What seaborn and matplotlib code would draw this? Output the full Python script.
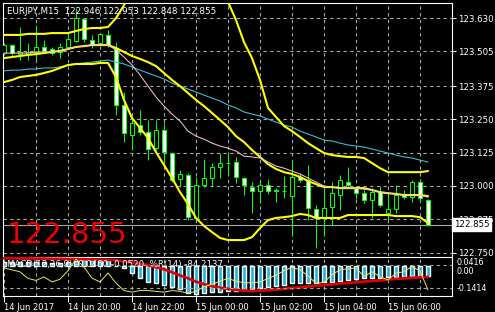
import numpy as np
import matplotlib
matplotlib.use("Agg")
import matplotlib.pyplot as plt
import seaborn as sns

title_text = "EURJPY,M15  122.946 122.953 122.848 122.855"
macd_text = "MACD(12,26,9) -0.0460 -0.0520  %R(14) -84.2137"
time_labels = ["14 Jun 2017", "14 Jun 20:00", "14 Jun 22:00", "15 Jun 00:00",
               "15 Jun 02:00", "15 Jun 04:00", "15 Jun 06:00"]
price_ticks = [123.630, 123.505, 123.375, 123.250, 123.125, 123.000, 122.875, 122.750]
bid = 122.855

opens = [123.499, 123.529, 123.495, 123.495, 123.503, 123.522, 123.514, 123.503, 123.522, 123.544,
         123.627, 123.548, 123.537, 123.567, 123.518, 123.304, 123.191, 123.229, 123.203, 123.143,
         123.210, 123.124, 123.026, 123.041, 122.880, 123.004, 123.030, 123.071, 123.086, 123.090,
         123.030, 122.996, 122.981, 123.004, 122.985, 122.981, 122.962, 123.034, 123.023, 122.914,
         122.880, 122.921, 122.966, 123.015, 122.992, 122.974, 122.947, 122.977, 122.899, 122.914,
         122.966, 122.959, 123.015, 122.946]
highs = [123.537, 123.533, 123.597, 123.537, 123.604, 123.548, 123.522, 123.537, 123.574, 123.668,
         123.631, 123.567, 123.574, 123.586, 123.541, 123.353, 123.259, 123.285, 123.248, 123.248,
         123.236, 123.128, 123.060, 123.049, 123.034, 123.101, 123.086, 123.124, 123.128, 123.109,
         123.034, 123.015, 123.015, 123.026, 122.992, 123.038, 123.098, 123.050, 123.079, 122.929,
         123.004, 123.015, 123.041, 123.071, 123.000, 122.985, 122.992, 123.000, 122.970, 123.004,
         122.985, 123.023, 123.026, 122.953]
lows = [123.492, 123.492, 123.473, 123.473, 123.473, 123.499, 123.492, 123.480, 123.518, 123.541,
        123.541, 123.518, 123.533, 123.522, 123.267, 123.165, 123.135, 123.191, 123.098, 123.135,
        123.079, 123.015, 122.996, 122.872, 122.872, 122.996, 122.996, 123.030, 123.041, 123.011,
        122.966, 122.899, 122.936, 122.970, 122.940, 122.955, 122.816, 123.015, 122.872, 122.767,
        122.816, 122.854, 122.910, 122.996, 122.951, 122.936, 122.880, 122.921, 122.872, 122.899,
        122.951, 122.940, 122.940, 122.848]
closes = [123.529, 123.499, 123.503, 123.503, 123.522, 123.507, 123.499, 123.522, 123.552, 123.631,
          123.552, 123.533, 123.571, 123.529, 123.304, 123.199, 123.236, 123.203, 123.139, 123.210,
          123.128, 123.023, 123.045, 122.884, 123.004, 123.030, 123.071, 123.086, 123.087, 123.034,
          123.004, 122.981, 123.004, 122.981, 122.981, 122.981, 123.034, 123.023, 122.917, 122.880,
          122.917, 122.974, 123.023, 123.004, 122.974, 122.947, 122.977, 122.929, 122.914, 122.966,
          122.959, 123.015, 122.955, 122.855]

bb_upper = [123.567, 123.567, 123.567, 123.571, 123.571, 123.571, 123.574, 123.574, 123.574, 123.582,
            123.589, 123.593, 123.593, 123.597, 123.630, 123.679, 123.728, 123.773, 123.803, 123.822,
            123.833, 123.837, 123.837, 123.830, 123.811, 123.788, 123.758, 123.728, 123.691, 123.623,
            123.540, 123.480, 123.398, 123.293, 123.259, 123.225, 123.206, 123.184, 123.161, 123.142,
            123.124, 123.116, 123.112, 123.109, 123.109, 123.105, 123.086, 123.067, 123.052, 123.052,
            123.052, 123.052, 123.052, 123.056]
bb_middle = [123.480, 123.484, 123.488, 123.492, 123.495, 123.499, 123.503, 123.507, 123.514, 123.522,
             123.525, 123.529, 123.529, 123.529, 123.518, 123.503, 123.488, 123.477, 123.465, 123.450,
             123.424, 123.398, 123.375, 123.349, 123.323, 123.300, 123.274, 123.248, 123.221, 123.187,
             123.165, 123.135, 123.109, 123.082, 123.064, 123.052, 123.045, 123.034, 123.019, 123.007,
             122.996, 122.996, 122.992, 122.992, 122.992, 122.992, 122.985, 122.977, 122.973, 122.970,
             122.966, 122.966, 122.966, 122.962]
bb_lower = [123.390, 123.398, 123.409, 123.413, 123.417, 123.424, 123.432, 123.443, 123.454, 123.458,
            123.458, 123.458, 123.462, 123.462, 123.409, 123.323, 123.255, 123.218, 123.180, 123.127,
            123.079, 123.030, 122.977, 122.932, 122.880, 122.850, 122.827, 122.805, 122.797, 122.797,
            122.797, 122.808, 122.842, 122.872, 122.880, 122.883, 122.887, 122.895, 122.891, 122.880,
            122.880, 122.880, 122.880, 122.891, 122.891, 122.891, 122.891, 122.891, 122.891, 122.887,
            122.887, 122.887, 122.883, 122.861]
ma_fast = [123.499, 123.499, 123.499, 123.499, 123.503, 123.503, 123.503, 123.507, 123.514, 123.522,
           123.525, 123.529, 123.529, 123.529, 123.511, 123.484, 123.454, 123.417, 123.375, 123.334,
           123.300, 123.270, 123.244, 123.206, 123.187, 123.176, 123.161, 123.150, 123.142, 123.131,
           123.112, 123.109, 123.105, 123.090, 123.075, 123.067, 123.056, 123.045, 123.030, 123.015,
           123.000, 122.996, 122.992, 122.992, 122.992, 122.988, 122.985, 122.977, 122.973, 122.970,
           122.966, 122.966, 122.966, 122.958]
ma_slow = [123.432, 123.435, 123.435, 123.439, 123.439, 123.443, 123.443, 123.447, 123.454, 123.458,
           123.462, 123.465, 123.469, 123.473, 123.465, 123.458, 123.447, 123.435, 123.424, 123.413,
           123.402, 123.386, 123.375, 123.364, 123.353, 123.341, 123.330, 123.319, 123.304, 123.293,
           123.278, 123.270, 123.263, 123.251, 123.240, 123.229, 123.221, 123.206, 123.195, 123.184,
           123.172, 123.169, 123.161, 123.154, 123.150, 123.146, 123.139, 123.131, 123.124, 123.116,
           123.109, 123.105, 123.097, 123.090]

macd_main = [0.020, 0.019, 0.018, 0.017, 0.017, 0.016, 0.015, 0.015, 0.017, 0.024,
             0.026, 0.026, 0.027, 0.027, -0.002, -0.012, -0.033, -0.057, -0.076, -0.080,
             -0.090, -0.099, -0.108, -0.127, -0.132, -0.127, -0.123, -0.122, -0.118, -0.117,
             -0.113, -0.1085, -0.105, -0.099, -0.096, -0.090, -0.080, -0.080, -0.080, -0.080,
             -0.078, -0.074, -0.070, -0.066, -0.063, -0.059, -0.057, -0.057, -0.054, -0.052,
             -0.050, -0.048, -0.047, -0.046]
macd_signal = [0.036, 0.036, 0.035, 0.035, 0.034, 0.034, 0.033, 0.033, 0.032, 0.032,
               0.031, 0.030, 0.029, 0.028, 0.026, 0.022, 0.016, 0.009, 0.003, -0.006,
               -0.016, -0.030, -0.045, -0.058, -0.074, -0.086, -0.095, -0.103, -0.108, -0.113,
               -0.116, -0.118, -0.117, -0.114, -0.111, -0.108, -0.104, -0.101, -0.097, -0.093,
               -0.090, -0.087, -0.083, -0.080, -0.077, -0.074, -0.071, -0.068, -0.064, -0.061,
               -0.059, -0.056, -0.054, -0.052]
wpr = [-28, -33, -38, -55, -60, -51, -64, -57, -35, -5,
       -26, -54, -64, -41, -67, -86, -90, -86, -86, -88,
       -90, -86, -88, -93, -88, -76, -70, -62, -55, -62,
       -66, -66, -64, -55, -47, -35, -27, -33, -48, -68,
       -65, -45, -33, -30, -28, -50, -38, -50, -59, -41,
       -38, -24, -36, -84.2137]

# ---------------- style ----------------
sns.set_theme(style="dark", rc={"axes.facecolor": "black", "figure.facecolor": "black",
                                "savefig.facecolor": "black", "axes.edgecolor": "white",
                                "text.color": "white", "xtick.color": "white", "ytick.color": "white"})
plt.rcParams['font.family'] = ['DejaVu Sans']

W, H = 495, 312
fig = plt.figure(figsize=(W / 100, H / 100), dpi=100)
ax = fig.add_axes([3 / W, 1 - 256 / H, 449 / W, 253 / H])
axm = fig.add_axes([3 / W, 1 - 296 / H, 449 / W, 39 / H])

GREEN = "#00ff00"
GRID = "#a6a6a6"
dash = (0, (3, 3))
n = len(opens)
x = np.arange(n)
o = np.array(opens); c = np.array(closes)

# ---------------- main panel ----------------
ax.set_xlim(-0.125, 56)
ax.set_ylim(122.7372, 123.6869)
ax.set_xticks(np.arange(4, 56, 4))
ax.set_yticks(price_ticks)
ax.set_yticklabels([f"{p:.3f}" for p in price_ticks])
ax.grid(True, color=GRID, linestyle=dash, linewidth=0.8)
ax.set_axisbelow(True)
ax.tick_params(axis="x", length=0, labelbottom=False, bottom=False)
ax.tick_params(axis="y", left=False, labelleft=False, right=True, labelright=True,
               length=3, width=0.72, pad=1.5, labelsize=6.2, colors="white")
for s in ["left", "top", "right"]:
    ax.spines[s].set_color("white"); ax.spines[s].set_linewidth(0.8)
ax.spines["bottom"].set_visible(False)

ax.axhline(bid, color="#a8a8a8", linewidth=0.8, zorder=1.5)

ax.vlines(x, lows, highs, color=GREEN, linewidth=0.75, zorder=2)
fills = np.where(c < o, "white", "black")
ax.bar(x, np.abs(c - o), bottom=np.minimum(o, c), width=0.62, color=fills,
       edgecolor=GREEN, linewidth=0.75, zorder=3)

sns.lineplot(x=x, y=ma_slow, ax=ax, color="#3cc8d8", linewidth=0.75, estimator=None, zorder=4)
sns.lineplot(x=x, y=bb_upper, ax=ax, color="#ffff00", linewidth=1.5, estimator=None, zorder=4)
sns.lineplot(x=x, y=bb_middle, ax=ax, color="#ffff00", linewidth=1.5, estimator=None, zorder=4)
sns.lineplot(x=x, y=bb_lower, ax=ax, color="#ffff00", linewidth=1.5, estimator=None, zorder=4)
sns.lineplot(x=x, y=ma_fast, ax=ax, color="#f4c0c8", linewidth=0.75, estimator=None, zorder=5)

ax.text((7 - 3) / 449, 122.786, f"{bid:.3f}", transform=ax.get_yaxis_transform(),
        color="#ee0000", fontsize=21, va="baseline", ha="left", zorder=6)
ax.text(1.004, bid, f"{bid:.3f}", transform=ax.get_yaxis_transform(), color="black",
        fontsize=6.2, va="center", ha="left", clip_on=False, zorder=10,
        bbox=dict(facecolor="white", edgecolor="white", pad=1.2))
fig.text(7 / W, 1 - 11 / H, title_text, color="white", fontsize=6.3, va="center", ha="left")

# ---------------- MACD panel ----------------
axm.set_xlim(-0.125, 56)
axm.set_ylim(-0.1414, 0.0416)
axm.set_xticks(np.arange(0, 56, 8))
axm.set_xticks(np.arange(4, 56, 8), minor=True)
axm.set_xticklabels(time_labels, ha="left")
axm.set_yticks([])
axm.grid(True, which="both", axis="x", color=GRID, linestyle=dash, linewidth=0.8)
axm.grid(False, axis="y")
axm.set_axisbelow(True)
axm.tick_params(axis="x", which="major", length=4, width=0.72, pad=1, labelsize=6, colors="white",
                direction="out", bottom=True)
axm.tick_params(axis="x", which="minor", length=0)
for s in axm.spines.values():
    s.set_color("white"); s.set_linewidth(0.8)

axm.bar(x, macd_main, width=0.62, color="#1ab4ee", zorder=2)
sns.lineplot(x=x, y=macd_signal, ax=axm, color="#e00000", linewidth=2.0, estimator=None, zorder=3)

axr = axm.twinx()
axr.set_ylim(-100, 0)
axr.set_yticks([])
axr.grid(False)
for s in axr.spines.values():
    s.set_visible(False)
for lvl in (-20, -80):
    axr.axhline(lvl, color=GRID, linestyle=dash, linewidth=0.8, zorder=1)
sns.lineplot(x=x, y=wpr, ax=axr, color="#e6e65a", linewidth=0.7, estimator=None, zorder=4)

axm.text(0.009, 0.80, macd_text, transform=axm.transAxes, color="white", fontsize=6.2,
         va="center", ha="left", zorder=8)
for txt, yf in (("0.0416", 0.86), ("0.00", 0.64), ("-0.1414", 0.18)):
    axm.text(1.01, yf, txt, transform=axm.transAxes, color="white", fontsize=5.8,
             va="center", ha="left", clip_on=False)

fig.savefig("out.png", dpi=100, facecolor="black")
